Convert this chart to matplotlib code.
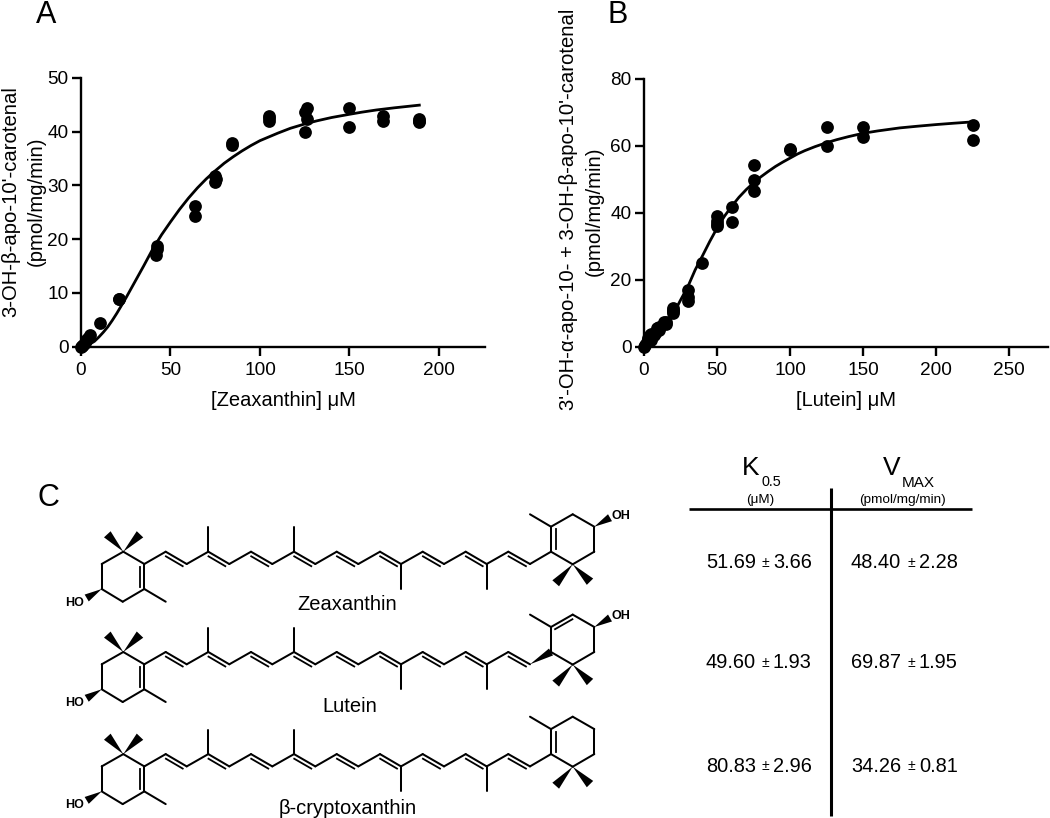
"""
Carotenoid cleavage kinetics figure: saturation curves for zeaxanthin (A) and
lutein (B), plus the substrate structures and fitted constants (C).
"""
import matplotlib
matplotlib.use("Agg")
import matplotlib.pyplot as plt
from matplotlib.patches import Polygon

plt.rcParams["font.family"] = ["Liberation Sans", "DejaVu Sans"]

W, H = 1050, 818

# ----------------------------- panel A data -----------------------------
A_X = [0, 0.5, 1, 2, 3, 4, 5, 10.5, 21, 21.5, 42, 42.5, 42.5, 63.5, 63.5, 75, 75, 75.5,
       84.5, 84.5, 105, 105, 105, 125, 125, 126, 126, 150, 150, 168.5, 168.5, 189, 189, 189]
A_Y = [0, 0.2, 0.3, 0.7, 1.2, 1.7, 2.2, 4.4, 8.9, 8.8, 17.0, 18.1, 18.8, 26.2, 24.3, 31.7, 30.7, 31.2,
       37.9, 37.4, 42.9, 42.5, 42.0, 43.6, 39.9, 44.3, 42.3, 44.3, 40.9, 42.8, 41.9, 42.4, 41.9, 41.7]
A_FIT_X = [0, 2.5, 5, 7.5, 10, 12.5, 15, 17.5, 20, 25, 30, 35, 40, 45, 50, 55, 60, 65, 70, 75, 80, 85, 90, 95, 100,
           105, 110, 117, 125, 132, 140, 150, 157, 165, 175, 189]
A_FIT_Y = [0, 0.15, 0.5, 1.0, 1.8, 2.7, 3.7, 4.9, 6.2, 9.0, 12.0, 15.0, 18.1, 20.8, 23.2, 25.5, 27.6, 29.5, 31.2, 32.7, 34.1, 35.3, 36.4, 37.4, 38.3,
           39.0, 39.7, 40.6, 41.4, 42.0, 42.6, 43.2, 43.6, 44.0, 44.4, 44.9]
A_XTICKS = [0, 50, 100, 150, 200]
A_YTICKS = [0, 10, 20, 30, 40, 50]

# ----------------------------- panel B data -----------------------------
B_X = [0, 1, 2, 2.5, 3, 4, 5, 5, 7, 9, 10, 10, 14, 15, 15, 20, 20, 20, 20,
       30, 30, 30, 40, 50, 50, 50, 50, 60, 60, 75, 75, 75,
       100, 100, 125, 125, 150, 150, 225, 225]
B_Y = [0, 0.6, 1.4, 2.0, 2.6, 3.6, 2.0, 4.0, 3.6, 5.6, 5.0, 6.0, 7.6, 6.8, 7.5, 11.5, 10.8, 10.2, 11.0,
       17.1, 14.8, 13.7, 25.0, 39.0, 37.6, 36.6, 36.0, 41.7, 37.4, 54.4, 49.8, 46.5,
       58.9, 59.1, 65.8, 60.1, 65.7, 62.6, 66.4, 61.9]
B_FIT_X = [0, 2.5, 5, 7.5, 10, 15, 20, 25, 30, 35, 40, 45, 50, 55, 60, 65, 70, 75, 80, 85, 90, 95, 100,
           105, 110, 117, 125, 132, 140, 150, 160, 175, 187, 200, 212, 225]
B_FIT_Y = [0, 0.2, 0.7, 1.6, 2.7, 5.7, 9.8, 14.0, 18.0, 23.0, 27.2, 31.5, 35.5, 39.0, 42.0, 44.7, 47.0, 49.0, 50.8, 52.4, 53.9, 55.2, 56.4,
           57.6, 58.6, 59.8, 61.0, 61.9, 62.8, 63.8, 64.5, 65.4, 65.9, 66.4, 66.8, 67.2]
B_XTICKS = [0, 50, 100, 150, 200, 250]
B_YTICKS = [0, 20, 40, 60, 80]

# ----------------------------- panel C table -----------------------------
K_VALS = ["51.69", "49.60", "80.83"]
K_ERRS = ["3.66", "1.93", "2.96"]
V_VALS = ["48.40", "69.87", "34.26"]
V_ERRS = ["2.28", "1.95", "0.81"]
ROW_Y = [563, 663, 766]

NAMES = ["Zeaxanthin", "Lutein", "β-cryptoxanthin"]
NAME_X = [347, 350, 348]
NAME_Y = [604, 706, 808]
MOL_DY = [0, 100.3, 202.4]

# skeleton of the zeaxanthin drawing, in figure pixels
CHAIN = [(144.3, 564), (165.7, 551.7), (186.7, 564), (208.3, 551.7), (229.3, 564), (251, 551.7),
         (272.3, 564), (294, 551.7), (315.3, 564), (336.7, 551.7), (358.3, 564), (380, 551.7),
         (401, 564), (422.7, 551.7), (444, 564), (465.7, 551.7), (486.7, 564), (508.3, 551.7),
         (530, 564), (551, 551.7)]
METHYLS = [((208.3, 551.7), (208.3, 527.3)), ((294, 551.7), (294, 527.3)),
           ((401, 564), (401, 589)), ((486.7, 564), (486.7, 589)),
           ((144.3, 589), (165.7, 601.7)), ((551, 526.7), (530, 514.3))]
L_RING = [(123.3, 551.7), (144.3, 564), (144.3, 589), (122.7, 601.7), (101.7, 589), (101.7, 564)]
R_RING = [(551, 551.7), (551, 526.7), (572.7, 514.3), (594.3, 526.7), (594.3, 551.7), (572.7, 564.3)]
L_WEDGES = [((123.3, 551.7), (107.3, 534.3), 9), ((123.3, 551.7), (140, 534.3), 9),
            ((101.7, 589), (86.7, 598), 8)]
R_WEDGES = [((572.7, 564.3), (555.7, 583.3), 9), ((572.7, 564.3), (590, 581.7), 9)]
OH_WEDGE = ((594.3, 526.7), (610, 517.7), 8)


def bond(ax, a, b, dy, lw=1.45):
    ax.plot([a[0], b[0]], [a[1] + dy, b[1] + dy], color="black", lw=lw, solid_capstyle="round")


def inner(ax, a, b, dy, ox, oy, trim=0.1):
    # second stroke of a double bond, a bit shorter than the main one
    x0 = a[0] + (b[0] - a[0]) * trim + ox
    x1 = b[0] - (b[0] - a[0]) * trim + ox
    y0 = a[1] + (b[1] - a[1]) * trim + oy + dy
    y1 = b[1] - (b[1] - a[1]) * trim + oy + dy
    ax.plot([x0, x1], [y0, y1], color="black", lw=1.3)


def wedge(ax, tip, end, width, dy):
    dx, dyy = end[0] - tip[0], end[1] - tip[1]
    n = (dx ** 2 + dyy ** 2) ** 0.5
    px, py = -dyy / n * width / 2, dx / n * width / 2
    ax.add_patch(Polygon([(tip[0], tip[1] + dy), (end[0] + px, end[1] + py + dy),
                          (end[0] - px, end[1] - py + dy)], closed=True, fc="black", ec="none"))


def molecule(ax, dy, lutein=False, right_oh=True):
    last = len(CHAIN) - 2 if lutein else len(CHAIN) - 1
    for i in range(last):
        bond(ax, CHAIN[i], CHAIN[i + 1], dy)
    for i in range(1, len(CHAIN) - 2, 2):
        inner(ax, CHAIN[i], CHAIN[i + 1], dy, -1.9, 3.4)
    for a, b in METHYLS:
        bond(ax, a, b, dy)
    for ring in (L_RING, R_RING):
        for i in range(6):
            bond(ax, ring[i], ring[(i + 1) % 6], dy)
    inner(ax, L_RING[1], L_RING[2], dy, -4.3, 0)
    if lutein:
        inner(ax, R_RING[1], R_RING[2], dy, 1.9, 3.4)
        wedge(ax, CHAIN[-2], CHAIN[-1], 8, dy)
    else:
        inner(ax, R_RING[0], R_RING[1], dy, 5, 0)
    for tip, end, w in L_WEDGES + R_WEDGES:
        wedge(ax, tip, end, w, dy)
    ax.text(75, 602.7 + dy, "HO", fontsize=9, fontweight="bold", ha="center", va="center")
    if right_oh:
        wedge(ax, OH_WEDGE[0], OH_WEDGE[1], OH_WEDGE[2], dy)
        ax.text(621, 515.7 + dy, "OH", fontsize=9, fontweight="bold", ha="center", va="center")


def curve_panel(fig, box, xs, ys, fx, fy, xlim, ylim, xticks, yticks, xlabel):
    left, right, top, bottom = box
    ax = fig.add_axes([left / W, 1 - bottom / H, (right - left) / W, (bottom - top) / H])
    ax.plot(fx, fy, color="black", lw=2.0, zorder=3, clip_on=False)
    ax.plot(xs, ys, "o", color="black", ms=9.2, mew=0, zorder=4, clip_on=False)
    ax.set_xlim(*xlim)
    ax.set_ylim(*ylim)
    ax.set_xticks(xticks)
    ax.set_yticks(yticks)
    ax.spines[["top", "right"]].set_visible(False)
    ax.spines[["left", "bottom"]].set_linewidth(1.7)
    ax.tick_params(width=1.7, length=6.5, labelsize=13.7)
    ax.tick_params(axis="x", pad=4.5)
    ax.tick_params(axis="y", pad=2.5)
    ax.set_xlabel(xlabel, fontsize=14.5, labelpad=8.5)
    ax.patch.set_alpha(0)
    return ax


def main():
    fig = plt.figure(figsize=(W / 100, H / 100), dpi=100)

    curve_panel(fig, (81, 485, 77.7, 346.7), A_X, A_Y, A_FIT_X, A_FIT_Y, (0, 225.7), (0, 50),
                A_XTICKS, A_YTICKS, "[Zeaxanthin] μM")
    curve_panel(fig, (644, 1048, 79, 347), B_X, B_Y, B_FIT_X, B_FIT_Y, (0, 276.5), (0, 80),
                B_XTICKS, B_YTICKS, "[Lutein] μM")

    # everything else is placed in figure pixels on a full-size overlay
    ov = fig.add_axes([0, 0, 1, 1], zorder=-1)
    ov.set_xlim(0, W)
    ov.set_ylim(H, 0)
    ov.axis("off")

    for txt, x, y in [("A", 46.5, 15), ("B", 618, 15), ("C", 48, 498)]:
        ov.text(x, y, txt, fontsize=22, ha="center", va="center")

    ov.text(11, 202, "3-OH-β-apo-10'-carotenal", fontsize=14.6, rotation=90, ha="center", va="center")
    ov.text(36, 201, "(pmol/mg/min)", fontsize=14.6, rotation=90, ha="center", va="center")
    ov.text(568, 209, "3'-OH-α-apo-10- + 3-OH-β-apo-10'-carotenal", fontsize=14.6, rotation=90,
            ha="center", va="center")
    ov.text(594, 211, "(pmol/mg/min)", fontsize=14.6, rotation=90, ha="center", va="center")

    molecule(ov, MOL_DY[0])
    molecule(ov, MOL_DY[1], lutein=True)
    molecule(ov, MOL_DY[2], right_oh=False)
    for name, x, y in zip(NAMES, NAME_X, NAME_Y):
        ov.text(x, y, name, fontsize=14.5, ha="center", va="center")

    # table
    ov.plot([689, 972], [509.3, 509.3], color="black", lw=1.9, solid_capstyle="butt")
    ov.plot([831, 831], [488, 816], color="black", lw=2.2, solid_capstyle="butt")
    ov.text(742, 468, "K", fontsize=19, ha="left", va="center")
    ov.text(761.5, 482.5, "0.5", fontsize=10.4, ha="left", va="center")
    ov.text(883, 468, "V", fontsize=19, ha="left", va="center")
    ov.text(901.5, 483, "MAX", fontsize=11, ha="left", va="center")
    ov.text(760, 500, "(μM)", fontsize=9.7, ha="center", va="center")
    ov.text(902, 500, "(pmol/mg/min)", fontsize=9.7, ha="center", va="center")
    for y, kv, ke, vv, ve in zip(ROW_Y, K_VALS, K_ERRS, V_VALS, V_ERRS):
        ov.text(756, y, kv, fontsize=14.4, ha="right", va="center")
        ov.text(765, y, "±", fontsize=10, ha="center", va="center")
        ov.text(773, y, ke, fontsize=14.4, ha="left", va="center")
        ov.text(901, y, vv, fontsize=14.4, ha="right", va="center")
        ov.text(911, y, "±", fontsize=10, ha="center", va="center")
        ov.text(919, y, ve, fontsize=14.4, ha="left", va="center")

    fig.savefig("out.png", dpi=100)


if __name__ == "__main__":
    main()
